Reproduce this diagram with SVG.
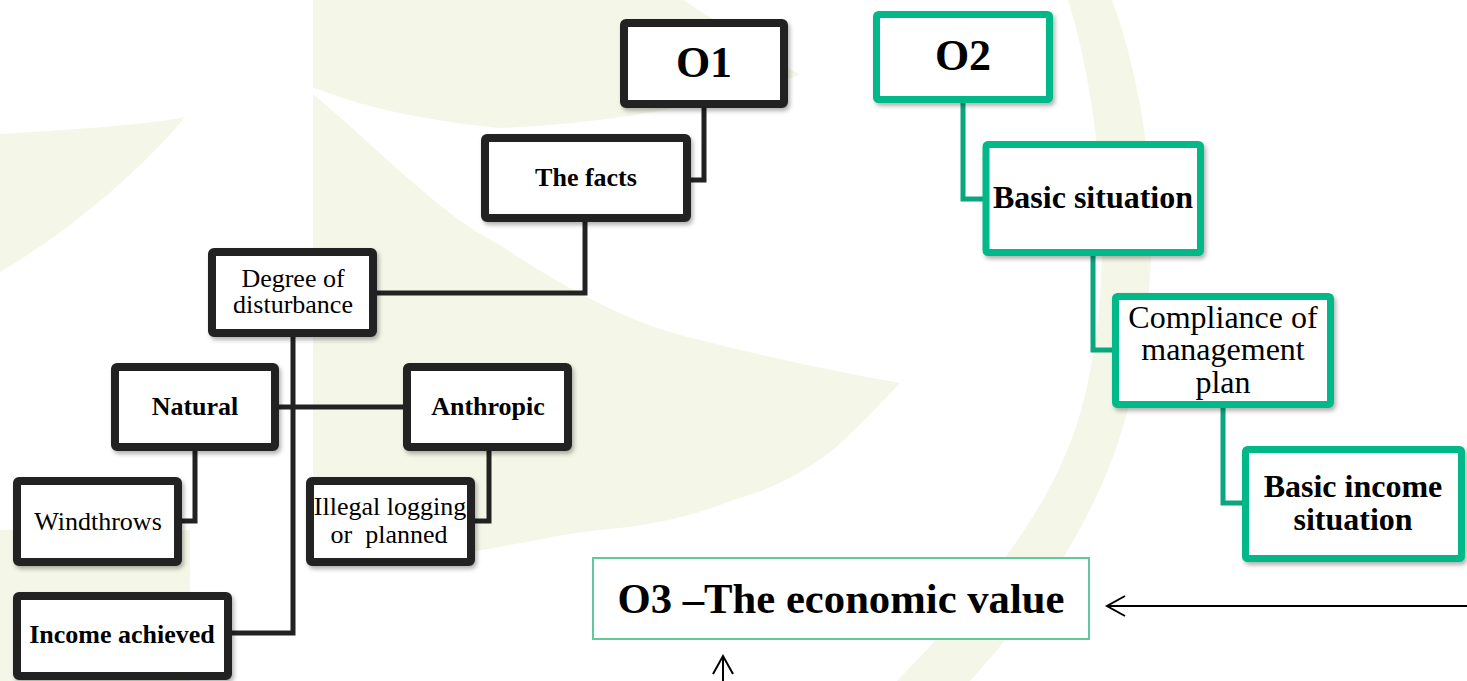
<svg xmlns="http://www.w3.org/2000/svg" width="1467" height="681" viewBox="0 0 1467 681">
  <style>
    .bg { fill: #f4f7e7; stroke: none; }
    .bk { fill: #ffffff; stroke: #222222; stroke-width: 8; filter: url(#sh); }
    .gr { fill: #ffffff; stroke: #00b888; stroke-width: 7; filter: url(#sh); }
    .o3 { fill: #ffffff; stroke: #62c99c; stroke-width: 2; }
    .cb { fill: none; stroke: #222222; stroke-width: 5; stroke-linejoin: miter; }
    .cg { fill: none; stroke: #0aa67d; stroke-width: 5; stroke-linejoin: miter; }
    .ar { fill: none; stroke: #000000; stroke-width: 2; marker-end: url(#open); }
    text { font-family: "Liberation Serif", "Times New Roman", serif; fill: #000000; text-anchor: middle; }
    .b26 { font-size: 26px; font-weight: bold; }
    .r26 { font-size: 26px; }
    .b32 { font-size: 32px; font-weight: bold; }
    .r32 { font-size: 32px; }
    .b44 { font-size: 44px; font-weight: bold; }
    .b43 { font-size: 42.7px; font-weight: bold; }
  </style>
  <defs>
    <filter id="sh" x="-10%" y="-10%" width="130%" height="140%">
      <feDropShadow dx="2" dy="3" stdDeviation="2" flood-color="#000000" flood-opacity="0.3"/>
    </filter>
    <marker id="open" markerUnits="userSpaceOnUse" viewBox="0 -2 22 24" refX="19" refY="10" markerWidth="22" markerHeight="24" orient="auto">
      <path d="M1,0 L19,10 L1,20" fill="none" stroke="#000000" stroke-width="2"/>
    </marker>
  </defs>

  <g id="background">
    <rect width="1467" height="681" fill="#ffffff"/>
    <path class="bg" d="M0,134 C60,130 140,126 185,117 C150,160 80,225 0,272 Z"/>
    <path class="bg" d="M313,0 H683 L800,75 C700,108 600,124 500,128 C420,120 360,106 318,89 L313,88 Z"/>
    <path class="bg" d="M313,94 C380,150 440,215 500,245 C560,285 630,325 700,340 C770,358 840,372 900,383 C870,415 845,440 833,450 C800,475 770,490 733,500 C690,518 640,527 600,530 C560,534 510,546 470,552 L317,560 L313,560 Z"/>
    <rect class="bg" x="0" y="530" width="190" height="151"/>
    <path class="bg" d="M1068,0 C1105,120 1118,300 1075,430 C1040,530 965,610 897,681 L970,681 C1035,610 1095,520 1122,430 C1165,300 1160,130 1112,0 Z"/>
  </g>

  <g id="connectors">
    <path class="cb" d="M704,108 V180 H691"/>
    <path class="cb" d="M585,222 V293 H377"/>
    <path class="cb" d="M293,337 V633 H232"/>
    <path class="cb" d="M279,407 H403"/>
    <path class="cb" d="M195,451 V521 H182"/>
    <path class="cb" d="M489,451 V521 H475"/>
    <path class="cg" d="M963,103 V199 H983"/>
    <path class="cg" d="M1093,256 V350 H1112"/>
    <path class="cg" d="M1223,408 V503 H1242"/>
    <path class="ar" d="M1467,606 H1107"/>
    <path class="ar" d="M723,681 V656"/>
  </g>

  <g id="O1">
    <rect class="bk" x="624" y="23" width="160" height="81" rx="2"/>
    <text class="b44" x="704" y="77">O1</text>
  </g>
  <g id="facts">
    <rect class="bk" x="485" y="138" width="202" height="80" rx="2"/>
    <text class="b26" x="586" y="186">The facts</text>
  </g>
  <g id="degree">
    <rect class="bk" x="212" y="252" width="161" height="81" rx="2"/>
    <text class="r26" x="293" y="287">Degree of</text>
    <text class="r26" x="293" y="313">disturbance</text>
  </g>
  <g id="natural">
    <rect class="bk" x="115" y="367" width="160" height="80" rx="2"/>
    <text class="b26" x="195" y="415">Natural</text>
  </g>
  <g id="anthropic">
    <rect class="bk" x="407" y="367" width="161" height="80" rx="2"/>
    <text class="b26" x="488" y="415">Anthropic</text>
  </g>
  <g id="windthrows">
    <rect class="bk" x="17" y="481" width="161" height="81" rx="2"/>
    <text class="r26" x="98" y="530">Windthrows</text>
  </g>
  <g id="illegal">
    <rect class="bk" x="310" y="481" width="161" height="81" rx="2"/>
    <text class="r26" x="390" y="515">Illegal logging</text>
    <text class="r26" x="389" y="543" xml:space="preserve">or  planned</text>
  </g>
  <g id="income">
    <rect class="bk" x="17" y="596" width="211" height="80" rx="2"/>
    <text class="b26" x="122" y="643">Income achieved</text>
  </g>

  <g id="O2">
    <rect class="gr" x="876.5" y="14.5" width="173" height="85" rx="2"/>
    <text class="b44" x="963" y="70">O2</text>
  </g>
  <g id="basic">
    <rect class="gr" x="986" y="144.5" width="214.5" height="108" rx="2"/>
    <text class="b32" x="1093" y="208">Basic situation</text>
  </g>
  <g id="compliance">
    <rect class="gr" x="1115.5" y="296.5" width="215" height="108" rx="2"/>
    <text class="r32" x="1223" y="328">Compliance of</text>
    <text class="r32" x="1223" y="360">management</text>
    <text class="r32" x="1223" y="393">plan</text>
  </g>
  <g id="basic-income">
    <rect class="gr" x="1245.5" y="449.5" width="216" height="109" rx="2"/>
    <text class="b32" x="1353" y="497">Basic income</text>
    <text class="b32" x="1353" y="530">situation</text>
  </g>

  <g id="O3">
    <rect class="o3" x="593" y="558" width="496" height="81"/>
    <text class="b43" x="841" y="613">O3 –The economic value</text>
  </g>
</svg>
